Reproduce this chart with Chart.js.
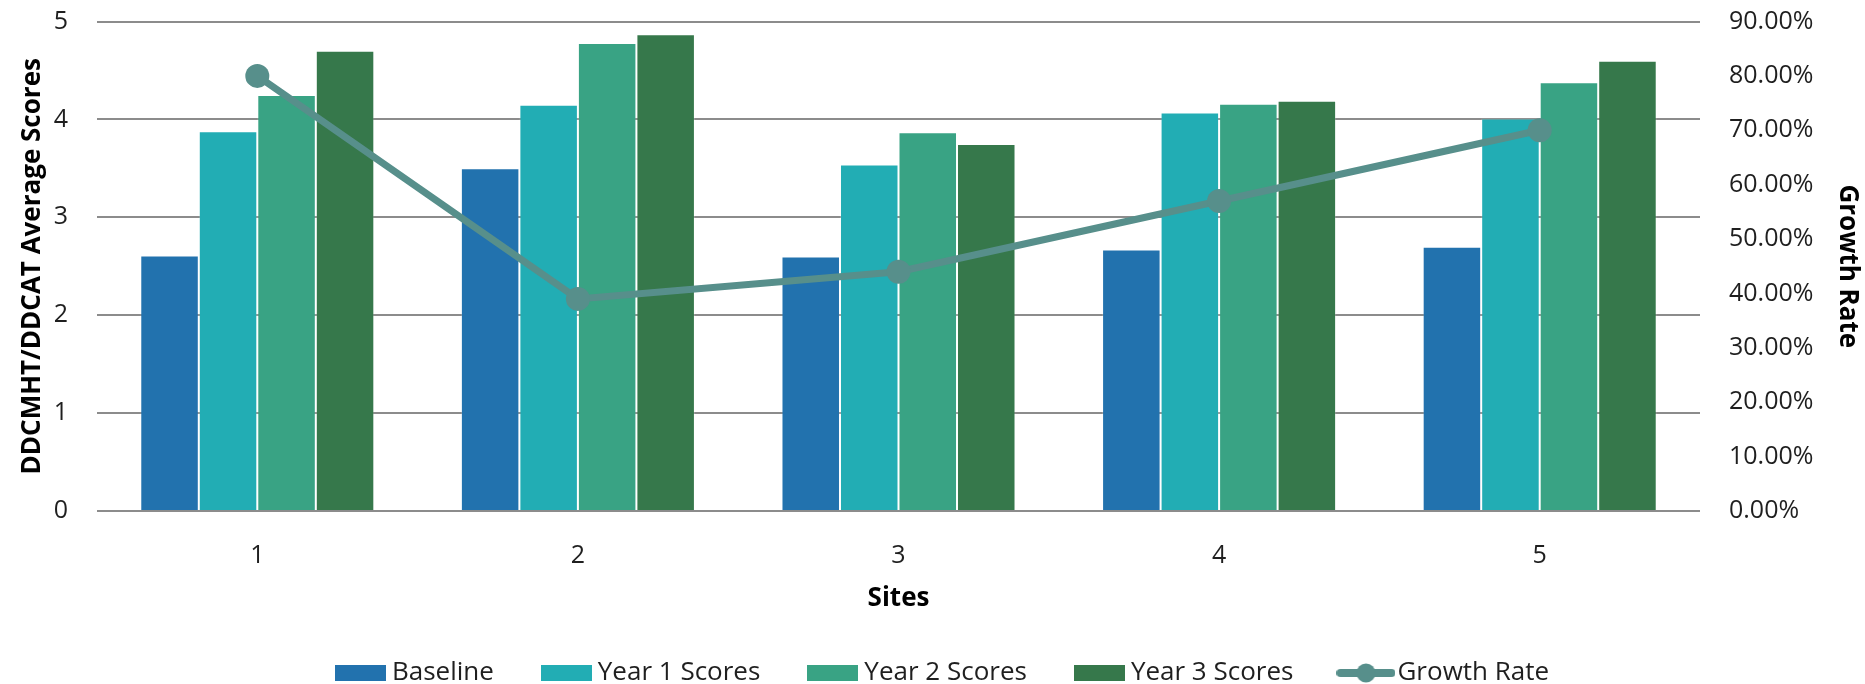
<!DOCTYPE html>
<html>
<head>
<meta charset="utf-8">
<script src="https://cdn.jsdelivr.net/npm/chart.js@4"></script>
<style>
  body { margin: 0; background: #fff; }
  #wrap { width: 1865px; height: 684px; }
</style>
</head>
<body>
<div id="wrap"><canvas id="grafica"></canvas></div>
<script>
const sitios = ["1", "2", "3", "4", "5"];
const baseline = [2.61, 3.50, 2.60, 2.67, 2.70];
const year1 = [3.88, 4.15, 3.54, 4.07, 4.01];
const year2 = [4.25, 4.78, 3.87, 4.16, 4.38];
const year3 = [4.70, 4.87, 3.75, 4.19, 4.60];
const growthRate = [0.80, 0.39, 0.44, 0.57, 0.70];

const colores = ["#2272ae", "#22adb4", "#39a384", "#36784b", "#578f8b"];
const txt = "#1f1f1f";

Chart.defaults.font.family = "'Open Sans', sans-serif";
Chart.defaults.color = txt;

// iconos de la leyenda
function iconoCaja(color) {
  const c = document.createElement("canvas");
  c.width = 51; c.height = 16;
  const g = c.getContext("2d");
  g.fillStyle = color;
  g.fillRect(0, 0, 51, 16);
  return c;
}
function iconoLinea(color) {
  const c = document.createElement("canvas");
  c.width = 59; c.height = 20;
  const g = c.getContext("2d");
  g.strokeStyle = color;
  g.lineWidth = 8;
  g.lineCap = "round";
  g.beginPath(); g.moveTo(4, 10); g.lineTo(55, 10); g.stroke();
  g.fillStyle = color;
  g.beginPath(); g.arc(29.5, 10, 9.5, 0, Math.PI * 2); g.fill();
  return c;
}
const iconos = [
  iconoCaja(colores[0]), iconoCaja(colores[1]), iconoCaja(colores[2]),
  iconoCaja(colores[3]), iconoLinea(colores[4])
];

function barra(label, data, color) {
  return {
    type: "bar",
    label,
    data,
    backgroundColor: color,
    borderColor: "rgba(255,255,255,0.2)",
    borderWidth: { left: 1, right: 1, top: 1, bottom: 0 },
    yAxisID: "y",
    order: 1,
    categoryPercentage: 0.73,
    barPercentage: 1.0
  };
}

// ejes verticales sin relleno extra arriba/abajo
function ajustarVertical(ancho) {
  return (s) => {
    s.width = ancho;
    s.paddingTop = 0;
    s.paddingBottom = 0;
  };
}

new Chart(document.getElementById("grafica").getContext("2d"), {
  data: {
    labels: sitios,
    datasets: [
      barra("Baseline", baseline, colores[0]),
      barra("Year 1 Scores", year1, colores[1]),
      barra("Year 2 Scores", year2, colores[2]),
      barra("Year 3 Scores", year3, colores[3]),
      {
        type: "line",
        label: "Growth Rate",
        data: growthRate,
        yAxisID: "y1",
        order: 0,
        borderColor: colores[4],
        backgroundColor: colores[4],
        borderWidth: 7,
        pointRadius: 12,
        pointBorderWidth: 0,
        pointBackgroundColor: colores[4],
        tension: 0
      }
    ]
  },
  options: {
    responsive: true,
    maintainAspectRatio: false,
    animation: false,
    layout: { padding: { top: 21.5, bottom: -12, left: 26, right: 0 } },
    plugins: {
      tooltip: { enabled: false },
      legend: {
        position: "bottom",
        labels: {
          usePointStyle: true,
          pointStyleWidth: 37,
          padding: 54,
          color: txt,
          font: { size: 26 },
          sort: (a, b) => a.datasetIndex - b.datasetIndex,
          generateLabels: (chart) => {
            const items = Chart.defaults.plugins.legend.labels.generateLabels(chart);
            items.forEach(it => { it.pointStyle = iconos[it.datasetIndex]; });
            return items;
          }
        }
      }
    },
    scales: {
      x: {
        grid: { display: false },
        border: { display: false },
        ticks: { font: { size: 25 }, color: txt, padding: 21.5 },
        title: {
          display: true,
          text: "Sites",
          font: { size: 26, weight: "bold" },
          color: "#000",
          padding: { top: 0, bottom: -8.6 }
        },
        afterFit: (s) => { s.height = 95; }
      },
      y: {
        position: "left",
        min: 0,
        max: 5,
        ticks: { stepSize: 1, font: { size: 25 }, color: txt, padding: 29 },
        grid: { color: "#8c8c8c", lineWidth: 2, drawTicks: false },
        border: { display: false },
        title: {
          display: true,
          text: "DDCMHT/DDCAT Average Scores",
          font: { size: 26, weight: "bold" },
          color: "#000",
          padding: { top: -9, bottom: 0 }
        },
        afterFit: ajustarVertical(71)
      },
      y1: {
        position: "right",
        min: 0,
        max: 0.9,
        ticks: {
          stepSize: 0.1,
          font: { size: 25 },
          color: txt,
          padding: 29,
          callback: (v) => (v * 100).toFixed(2) + "%"
        },
        grid: { display: false, drawTicks: false },
        border: { display: false },
        title: {
          display: true,
          text: "Growth Rate",
          font: { size: 26, weight: "bold" },
          color: "#000",
          padding: { top: 2.4, bottom: 0 }
        },
        afterFit: ajustarVertical(165)
      }
    }
  }
});
</script>
</body>
</html>
